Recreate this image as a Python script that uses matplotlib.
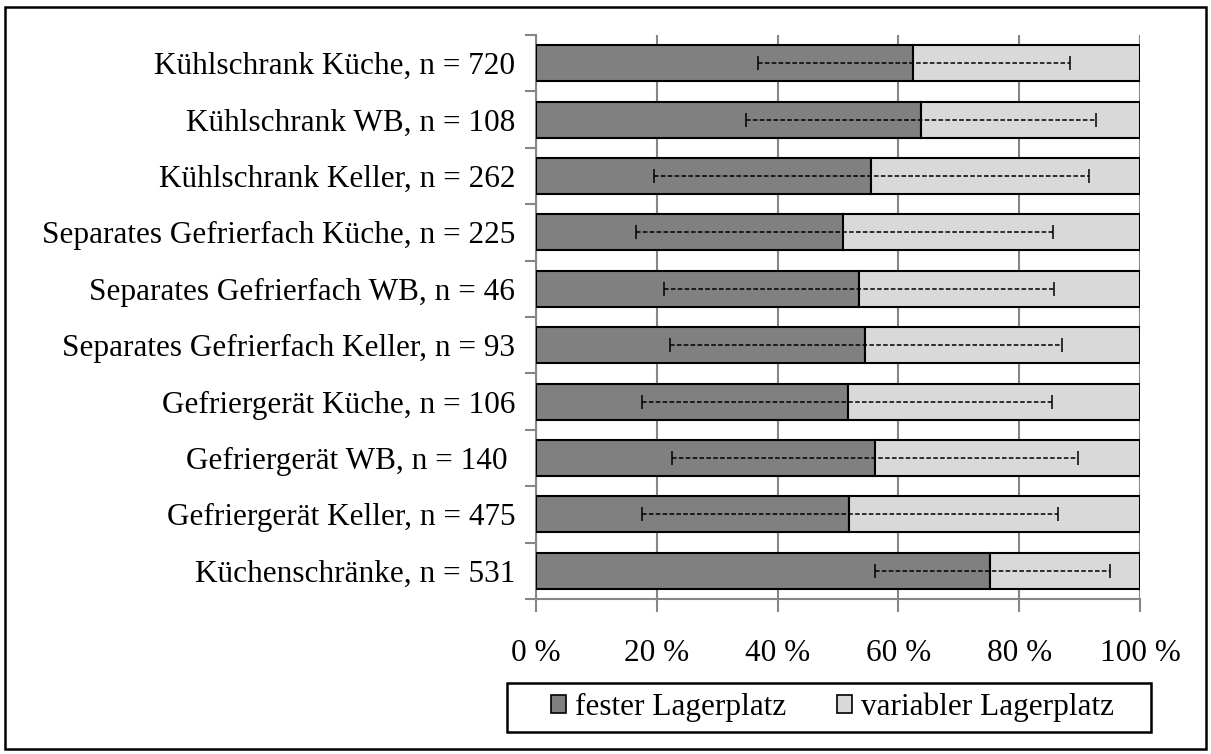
import numpy as np
import matplotlib.pyplot as plt
from matplotlib.patches import Rectangle

plt.rcParams['font.family'] = ['Liberation Serif', 'DejaVu Serif']

labels = ['Kühlschrank Küche, n = 720',
          'Kühlschrank WB, n = 108',
          'Kühlschrank Keller, n = 262',
          'Separates Gefrierfach Küche, n = 225',
          'Separates Gefrierfach WB, n = 46',
          'Separates Gefrierfach Keller, n = 93',
          'Gefriergerät Küche, n = 106',
          'Gefriergerät WB, n = 140 ',
          'Gefriergerät Keller, n = 475',
          'Küchenschränke, n = 531']
fester = [62.4, 63.7, 55.4, 50.9, 53.5, 54.5, 51.6, 56.2, 51.8, 75.2]
variabler = [37.6, 36.3, 44.6, 49.1, 46.5, 45.5, 48.4, 43.8, 48.2, 24.8]
err_lo = [25.7, 28.9, 35.8, 34.4, 32.3, 32.3, 34.0, 33.7, 34.2, 19.1]
err_hi = [26.0, 29.0, 36.2, 34.7, 32.3, 32.6, 33.9, 33.5, 34.6, 19.8]
ticks = [0, 20, 40, 60, 80, 100]

fs = 22.5

fig = plt.figure(figsize=(12.11, 7.54), dpi=100)
ax = fig.add_axes([0.4426, 0.2056, 0.4988, 0.748])

y = np.arange(len(labels))
h = 0.64
ax.barh(y, fester, height=h, color='#808080', edgecolor='black', lw=1.5,
        label='fester Lagerplatz', zorder=3)
ax.barh(y, variabler, left=fester, height=h, color='#d9d9d9', edgecolor='black',
        lw=1.5, label='variabler Lagerplatz', zorder=3)

eb = ax.errorbar(fester, y, xerr=[err_lo, err_hi], fmt='none', ecolor='black',
                 elinewidth=1.1, capsize=5, capthick=1.1, zorder=4)
eb[2][0].set_linestyle((0, (3, 1.5)))

ax.set_xlim(0, 100)
ax.set_ylim(len(labels) - 0.5, -0.5)
ax.set_xticks(ticks)
ax.set_xticklabels([f'{t} %' for t in ticks], fontsize=fs)
ax.set_yticks(y)
ax.set_yticklabels(labels, fontsize=fs)
ax.set_yticks(np.arange(-0.5, len(labels)), minor=True)

ax.grid(axis='x', color='#868686', lw=1.5, zorder=0)
ax.tick_params(axis='x', colors='#868686', length=9, width=1.5, pad=20,
               labelcolor='black')
ax.tick_params(axis='y', which='major', length=0, pad=15, labelcolor='black')
ax.tick_params(axis='y', which='minor', colors='#868686', length=8, width=1.5)
for s in ['top', 'right']:
    ax.spines[s].set_visible(False)
for s in ['left', 'bottom']:
    ax.spines[s].set_color('#868686')
    ax.spines[s].set_linewidth(1.5)

# legend entries without frame, box drawn separately
leg = fig.legend(loc='center', bbox_to_anchor=(0.6874, 0.0617), ncol=2,
                 fontsize=fs, frameon=False,
                 handlelength=0.48, handleheight=0.48, handletextpad=0.29,
                 columnspacing=1.6, borderpad=0.0)
for p in leg.get_patches():
    p.set_linewidth(1.2)
fig.patches.append(Rectangle((0.4187, 0.0292), 0.5318, 0.065, transform=fig.transFigure,
                             fill=False, ec='black', lw=1.8))

fig.patches.append(Rectangle((0.004, 0.007), 0.992, 0.984, transform=fig.transFigure,
                             fill=False, ec='black', lw=1.8))

fig.savefig('out.png', dpi=100)
